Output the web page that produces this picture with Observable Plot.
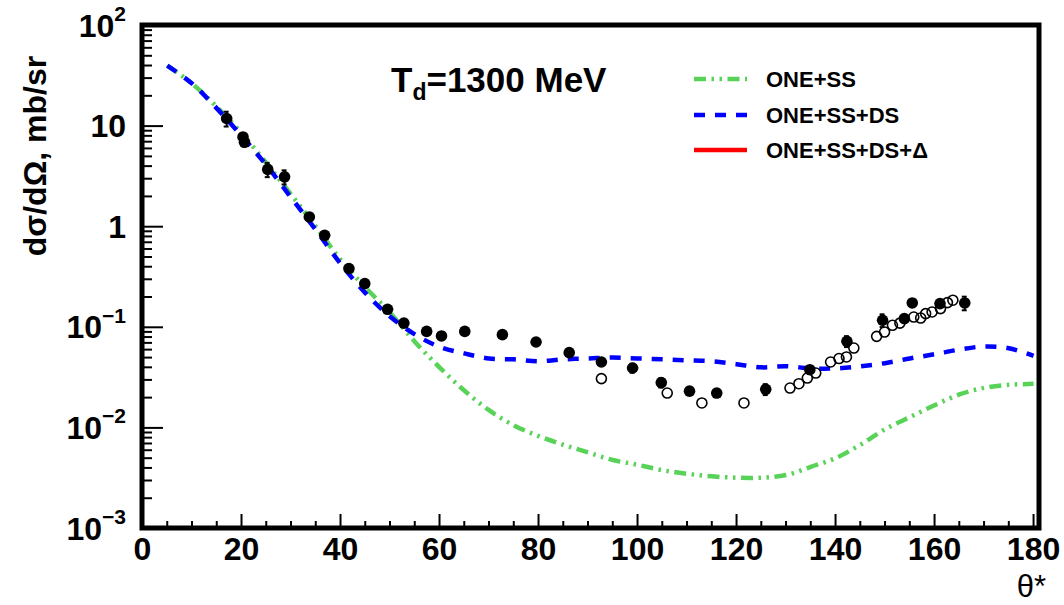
<!DOCTYPE html>
<html><head><meta charset="utf-8">
<script src="https://cdn.jsdelivr.net/npm/d3@7"></script>
<script src="https://cdn.jsdelivr.net/npm/@observablehq/plot@0.6"></script>
<style>
html,body{margin:0;padding:0;background:#fff;}
svg{font-family:"Liberation Sans",Arial,Helvetica,sans-serif;}
</style></head><body><div id="chart"></div>
<script>
// ---- data ----
const curveTheta = [5,10,15,20,25,30,35,40,45,50,55,60,65,70,75,80,85,90,95,100,105,110,115,120,125,130,135,140,145,150,155,160,165,170,175,180];
const oneSS = [40,26.5,15.5,8.5,4.3,2.1,1.0,0.47,0.25,0.14,0.072,0.040,0.0235,0.0150,0.0106,0.0083,0.0068,0.0057,0.0048,0.0043,0.0038,0.0035,0.0033,0.0032,0.0032,0.0034,0.0041,0.0050,0.0068,0.0097,0.0128,0.0168,0.0215,0.0250,0.0268,0.0274];
const oneSSDS = [40,26.5,15,8.0,4.1,1.95,0.93,0.43,0.22,0.128,0.085,0.064,0.055,0.049,0.048,0.046,0.048,0.049,0.050,0.049,0.048,0.047,0.046,0.043,0.040,0.041,0.039,0.039,0.041,0.044,0.049,0.054,0.060,0.0645,0.062,0.052];

const filledTheta = [17.0,20.3,20.6,25.3,28.7,33.7,36.8,41.7,44.9,49.5,52.8,57.4,60.4,65.1,72.7,79.5,86.2,92.7,99.0,104.8,110.5,116.0,125.9,134.8,142.3,149.5,153.9,155.5,161.1,166.1];
const filledXs    = [11.9,7.8,6.9,3.71,3.13,1.25,0.82,0.384,0.272,0.151,0.110,0.091,0.082,0.091,0.0845,0.0714,0.056,0.0452,0.0394,0.0282,0.0232,0.0222,0.0242,0.0379,0.0726,0.1175,0.122,0.1746,0.172,0.1746];
const filledErr   = [2.0,0.6,0.6,0.6,0.5,0.08,0.05,0.025,0.018,0.010,0.007,0.006,0.005,0.006,0.005,0.004,0.004,0.003,0.004,0.003,0.002,0.002,0.003,0.003,0.009,0.017,0.008,0.010,0.010,0.027];

const openTheta = [92.7,106.0,113.0,121.5,130.8,132.6,134.3,136.0,139.0,140.7,142.2,143.7,148.3,149.9,151.5,153.0,155.8,157.2,158.2,159.5,161.2,162.6,163.7];
const openXs    = [0.0309,0.0222,0.0177,0.0177,0.0249,0.0275,0.0313,0.0351,0.0452,0.0489,0.0507,0.0622,0.0813,0.0897,0.1047,0.110,0.1265,0.1236,0.1368,0.142,0.1535,0.176,0.186];

const xTicksMajor = [0,20,40,60,80,100,120,140,160,180];
const xTicksMinor = [5,10,15,25,30,35,45,50,55,65,70,75,85,90,95,105,110,115,125,130,135,145,150,155,165,170,175];
const yTicksMajor = [1e-3,1e-2,1e-1,1,10,100];
const yTickBase   = ["10","10","10","1","10","10"];
const yTickExp    = ["−3","−2","−1","","","2"];
const yMinorMult  = [2,3,4,5,6,7,8,9];

const seriesNames = ["ONE+SS","ONE+SS+DS","ONE+SS+DS+\u0394"];
const titleMain = "T", titleSub = "d", titleRest = "=1300 MeV";
const yTitle = "d\u03c3/d\u03a9, mb/sr";
const xTitle = "\u03b8*";

// ---- build tables ----
const curves = curveTheta.flatMap((t,i)=>[
  {theta:t, v:oneSS[i], s:seriesNames[0]},
  {theta:t, v:oneSSDS[i], s:seriesNames[1]}]);
const filled = filledTheta.map((t,i)=>({theta:t, v:filledXs[i], e:filledErr[i]}));
const open = openTheta.map((t,i)=>({theta:t, v:openXs[i]}));
const yMinor = yTicksMajor.slice(0,-1).flatMap(d=>yMinorMult.map(m=>d*m));

const W=1064, H=605, mL=142, mR=25, mT=25, mB=77;
const pw = W-mL-mR, ph = H-mT-mB;
const green="#58d358", blue="#0000ff", red="#ff0000";
const gDash = "12 5.5 2.5 5.5 2.5 5.5", bDash = "11 10";

const plot = Plot.plot({
  width: W, height: H,
  marginLeft: mL, marginRight: mR, marginTop: mT, marginBottom: mB,
  x: {domain: [0, 181.2], axis: null},
  y: {type: "log", domain: [1e-3, 1e2], axis: null},
  marks: [
    Plot.line(curves.filter(d=>d.s===seriesNames[0]), {x:"theta", y:"v", stroke: green, strokeWidth: 4.5, strokeDasharray: gDash, strokeLinecap: "butt", curve: "catmull-rom"}),
    Plot.line(curves.filter(d=>d.s===seriesNames[1]), {x:"theta", y:"v", stroke: blue, strokeWidth: 4.5, strokeDasharray: bDash, strokeLinecap: "butt", curve: "catmull-rom"}),
    Plot.ruleX(filled, {x:"theta", y1: d=>d.v-d.e, y2: d=>d.v+d.e, stroke:"black", strokeWidth: 2}),
    Plot.ruleY(filled, {y: d=>d.v-d.e, x1: d=>d.theta-0.5, x2: d=>d.theta+0.5, stroke:"black", strokeWidth: 2}),
    Plot.ruleY(filled, {y: d=>d.v+d.e, x1: d=>d.theta-0.5, x2: d=>d.theta+0.5, stroke:"black", strokeWidth: 2}),
    Plot.dot(open, {x:"theta", y:"v", r: 5, stroke:"black", strokeWidth: 1.6, fill: "none"}),
    Plot.dot(filled, {x:"theta", y:"v", r: 5.8, fill:"black", stroke: "none"}),
    // ticks (inside the frame)
    Plot.ruleX(xTicksMajor, {x: d=>d, insetTop: ph-14, stroke:"black", strokeWidth: 2}),
    Plot.ruleX(xTicksMinor, {x: d=>d, insetTop: ph-7, stroke:"black", strokeWidth: 2}),
    Plot.ruleY(yTicksMajor, {y: d=>d, insetRight: pw-21, stroke:"black", strokeWidth: 2}),
    Plot.ruleY(yMinor, {y: d=>d, insetRight: pw-10, stroke:"black", strokeWidth: 2}),
    Plot.text(xTicksMajor, {x: d=>d, frameAnchor: "bottom", lineAnchor: "top", dy: 9, text: d=>String(d), fontSize: 32, fontWeight: "bold", fill: "black"})
  ]
});

const svg = d3.select(plot);
const ys = plot.scale("y");
// frame
svg.append("rect").attr("x", mL).attr("y", mT).attr("width", pw).attr("height", ph)
  .attr("fill","none").attr("stroke","black").attr("stroke-width", 5);
// y tick labels with superscripts
yTicksMajor.forEach((v,i)=>{
  const y = ys.apply(v);
  const t = svg.append("text").attr("x", 126).attr("y", y).attr("dy", "0.36em")
    .attr("text-anchor","end").attr("font-weight","bold").attr("font-size", 32).attr("fill","black");
  t.append("tspan").text(yTickBase[i]);
  if (yTickExp[i]) t.append("tspan").attr("font-size", 21).attr("dy", "-0.75em").text(yTickExp[i]);
});
// y title
svg.append("text").attr("transform","translate(46,156) rotate(-90)").attr("text-anchor","middle")
  .attr("font-weight","bold").attr("font-size", 32).attr("fill","black").text(yTitle);
// x title
svg.append("text").attr("x", 1046).attr("y", 597).attr("text-anchor","end")
  .attr("font-size", 31).attr("fill","black").text(xTitle);
// title
const tt = svg.append("text").attr("x", 391).attr("y", 92).attr("text-anchor","start")
  .attr("font-weight","bold").attr("font-size", 35).attr("fill","black");
tt.append("tspan").text(titleMain);
tt.append("tspan").attr("font-size", 23).attr("dy", 8).text(titleSub);
tt.append("tspan").attr("dy", -8).text(titleRest);
// legend
const legend = [
  {name: seriesNames[0], stroke: green, dash: gDash, w: 4.5, y: 79},
  {name: seriesNames[1], stroke: blue, dash: bDash, w: 4.5, y: 115},
  {name: seriesNames[2], stroke: red, dash: null, w: 4.5, y: 150}
];
legend.forEach(l=>{
  svg.append("line").attr("x1", 694).attr("x2", 747).attr("y1", l.y).attr("y2", l.y)
    .attr("stroke", l.stroke).attr("stroke-width", l.w).attr("stroke-dasharray", l.dash);
  svg.append("text").attr("x", 766).attr("y", l.y).attr("dy","0.36em").attr("text-anchor","start")
    .attr("font-weight","bold").attr("font-size", 22).attr("fill","black").text(l.name);
});
document.getElementById("chart").appendChild(plot);
</script></body></html>
